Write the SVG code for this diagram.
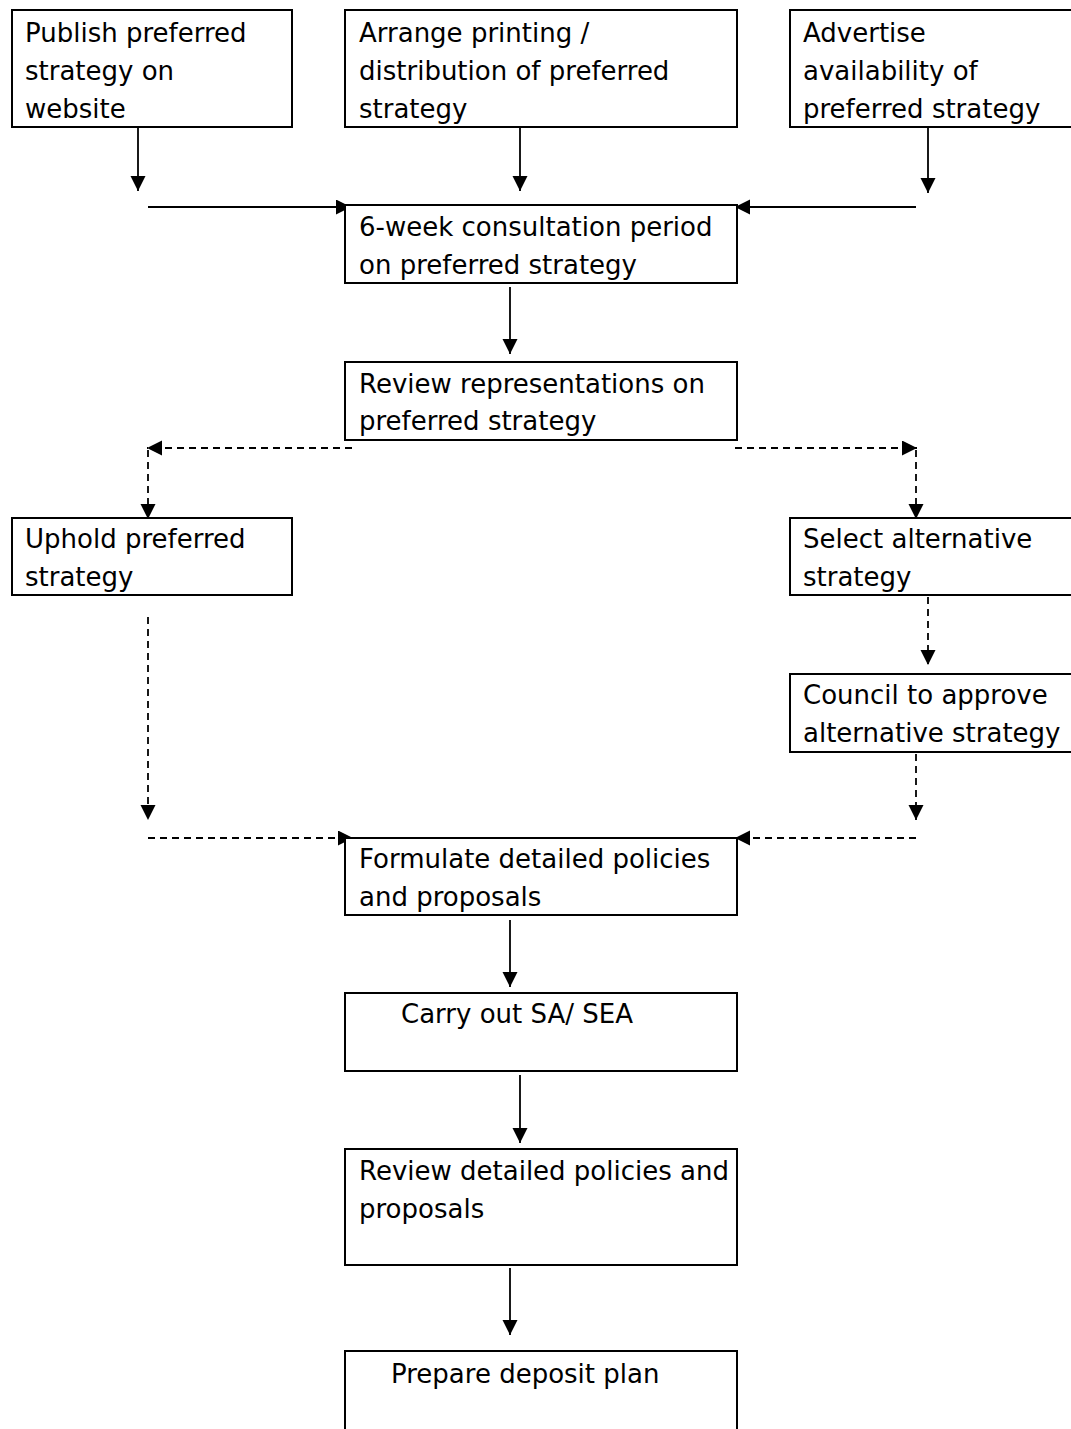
<svg xmlns="http://www.w3.org/2000/svg" width="1071" height="1429" viewBox="0 0 1071 1429">
<defs>
<marker id="ah" markerUnits="userSpaceOnUse" markerWidth="16" markerHeight="16" refX="15" refY="7.5" orient="auto">
<path d="M0,0 L15,7.5 L0,15 Z" fill="#000"/>
</marker>
</defs>
<style>
.box{fill:#fff;stroke:#000;stroke-width:2}
.t{font-family:"DejaVu Sans",sans-serif;font-size:26px;fill:#000}
.s{fill:none;stroke:#000;stroke-width:1.8}
.d{fill:none;stroke:#000;stroke-width:1.8;stroke-dasharray:7 5}
</style>
<rect width="1071" height="1429" fill="#fff"/>
<g id="connectors">
<line class="s" x1="138" y1="123" x2="138" y2="191" marker-end="url(#ah)"/>
<line class="s" x1="520" y1="123" x2="520" y2="191" marker-end="url(#ah)"/>
<line class="s" x1="928" y1="125" x2="928" y2="193" marker-end="url(#ah)"/>
<line class="s" x1="148" y1="207" x2="351" y2="207" marker-end="url(#ah)"/>
<line class="s" x1="916" y1="207" x2="735" y2="207" marker-end="url(#ah)"/>
<line class="s" x1="510" y1="287" x2="510" y2="354" marker-end="url(#ah)"/>
<line class="d" x1="352" y1="448" x2="147" y2="448" marker-end="url(#ah)"/>
<line class="d" x1="148" y1="450" x2="148" y2="519" marker-end="url(#ah)"/>
<line class="d" x1="735" y1="448" x2="917" y2="448" marker-end="url(#ah)"/>
<line class="d" x1="916" y1="450" x2="916" y2="519" marker-end="url(#ah)"/>
<line class="d" x1="928" y1="597" x2="928" y2="665" marker-end="url(#ah)"/>
<line class="d" x1="916" y1="754" x2="916" y2="820" marker-end="url(#ah)"/>
<line class="d" x1="916" y1="838" x2="735" y2="838" marker-end="url(#ah)"/>
<line class="d" x1="148" y1="617" x2="148" y2="820" marker-end="url(#ah)"/>
<line class="d" x1="148" y1="838" x2="353" y2="838" marker-end="url(#ah)"/>
<line class="s" x1="510" y1="920" x2="510" y2="987" marker-end="url(#ah)"/>
<line class="s" x1="520" y1="1075" x2="520" y2="1143" marker-end="url(#ah)"/>
<line class="s" x1="510" y1="1268" x2="510" y2="1335" marker-end="url(#ah)"/>
</g>
<g id="publish">
<rect class="box" x="12" y="10" width="280" height="117"/>
<text class="t" x="25" y="42">Publish preferred</text>
<text class="t" x="25" y="80">strategy on</text>
<text class="t" x="25" y="118">website</text>
</g>
<g id="arrange">
<rect class="box" x="345" y="10" width="392" height="117"/>
<text class="t" x="359" y="42">Arrange printing /</text>
<text class="t" x="359" y="80">distribution of preferred</text>
<text class="t" x="359" y="118">strategy</text>
</g>
<g id="advertise">
<rect class="box" x="790" y="10" width="290" height="117"/>
<text class="t" x="803" y="42">Advertise</text>
<text class="t" x="803" y="80">availability of</text>
<text class="t" x="803" y="118">preferred strategy</text>
</g>
<g id="consultation">
<rect class="box" x="345" y="205" width="392" height="78"/>
<text class="t" x="359" y="236">6-week consultation period</text>
<text class="t" x="359" y="274">on preferred strategy</text>
</g>
<g id="review-reps">
<rect class="box" x="345" y="362" width="392" height="78"/>
<text class="t" x="359" y="393">Review representations on</text>
<text class="t" x="359" y="430">preferred strategy</text>
</g>
<g id="uphold">
<rect class="box" x="12" y="518" width="280" height="77"/>
<text class="t" x="25" y="548">Uphold preferred</text>
<text class="t" x="25" y="586">strategy</text>
</g>
<g id="select">
<rect class="box" x="790" y="518" width="290" height="77"/>
<text class="t" x="803" y="548">Select alternative</text>
<text class="t" x="803" y="586">strategy</text>
</g>
<g id="council">
<rect class="box" x="790" y="674" width="290" height="78"/>
<text class="t" x="803" y="704">Council to approve</text>
<text class="t" x="803" y="742">alternative strategy</text>
</g>
<g id="formulate">
<rect class="box" x="345" y="838" width="392" height="77"/>
<text class="t" x="359" y="868">Formulate detailed policies</text>
<text class="t" x="359" y="906">and proposals</text>
</g>
<g id="carry">
<rect class="box" x="345" y="993" width="392" height="78"/>
<text class="t" x="401" y="1023">Carry out SA/ SEA</text>
</g>
<g id="review-detailed">
<rect class="box" x="345" y="1149" width="392" height="116"/>
<text class="t" x="359" y="1180">Review detailed policies and</text>
<text class="t" x="359" y="1218">proposals</text>
</g>
<g id="prepare">
<rect class="box" x="345" y="1351" width="392" height="90"/>
<text class="t" x="391" y="1383">Prepare deposit plan</text>
</g>
</svg>
